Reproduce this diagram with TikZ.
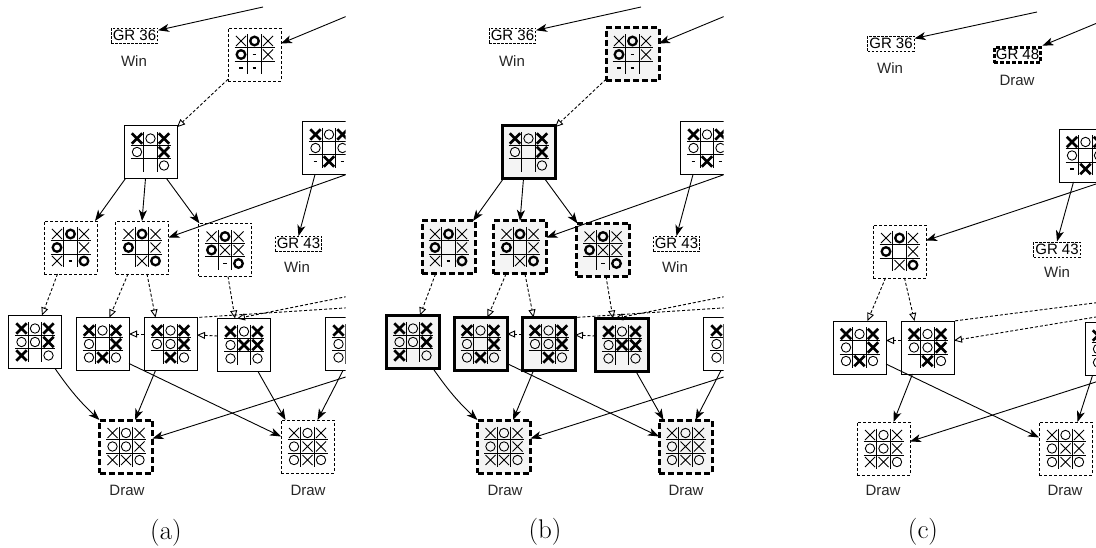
\documentclass[tikz,border=0pt]{standalone}
\usepackage{fontspec}
\newfontfamily\arialf{Liberation Sans}
\usetikzlibrary{arrows.meta}

\newcommand\mkn[2]{}
\newcommand\mkx[2]{\draw[line width=0.9pt] ({(#1-1)*13.5-5},{(#2-1)*13.5-5}) -- ++(10,10) ({(#1-1)*13.5-5},{(#2-1)*13.5+5}) -- ++(10,-10);}
\newcommand\mkX[2]{\draw[line width=2.6pt] ({(#1-1)*13.5-5.2},{(#2-1)*13.5-5.2}) -- ++(10.4,10.4) ({(#1-1)*13.5-5.2},{(#2-1)*13.5+5.2}) -- ++(10.4,-10.4);}
\newcommand\mko[2]{\draw[line width=0.9pt] ({(#1-1)*13.5},{(#2-1)*13.5}) circle[radius=4.7];}
\newcommand\mkO[2]{\draw[line width=2.3pt] ({(#1-1)*13.5},{(#2-1)*13.5}) circle[radius=4.3];}
\newcommand\mkd[2]{\draw[line width=1.1pt] ({(#1-1)*13.5-1.8},{(#2-1)*13.5}) -- ++(3.6,0);}

\newcommand\brd[4]{%
  \node[#3] (#1) at (#2) {};
  \begin{scope}[shift={(#2)}]
    \draw[line width=0.9pt] (-6.75,-20) -- (-6.75,20) (6.75,-20) -- (6.75,20) (-20,-6.75) -- (20,-6.75) (-20,6.75) -- (20,6.75);
    \foreach \m [count=\i from 0] in {#4} {%
      \pgfmathtruncatemacro\cc{mod(\i,3)}%
      \pgfmathtruncatemacro\rr{div(\i,3)}%
      \csname mk\m\endcsname{\cc}{\rr}}
  \end{scope}}

\newcommand\sz{\fontsize{15}{17}\selectfont}
\newcommand\capsz{\fontsize{27}{30}\selectfont}

\tikzset{
  bfr/.style={minimum size=53pt, inner sep=0pt, outer sep=0pt},
  fthin/.style={bfr, draw, line width=0.9pt},
  fdash/.style={bfr, draw, line width=0.9pt, dash pattern=on 3pt off 2pt},
  fbold/.style={bfr, draw, line width=3pt, fill=gray!9},
  fbdash/.style={bfr, draw, line width=3pt, dash pattern=on 6pt off 3pt, fill=gray!9},
  fbdashw/.style={bfr, draw, line width=3pt, dash pattern=on 6pt off 3pt},
  gr/.style={draw, line width=0.8pt, dash pattern=on 2.5pt off 1.5pt, inner xsep=1.5pt, inner ysep=2pt, text height=10.5pt, text depth=0.6pt},
  grb/.style={gr, line width=3.5pt, dash pattern=on 4pt off 2pt},
  lbl/.style={text=black!85},
  sarr/.style={line width=0.9pt, -{Stealth[length=11pt,width=8pt,inset=3pt]}},
  darr/.style={line width=0.9pt, dash pattern=on 3pt off 2pt, -{Triangle[open,length=8pt,width=7pt]}},
  dline/.style={line width=0.9pt, dash pattern=on 3pt off 2pt},
}

\newcommand\panelab[1]{%
\begin{scope}
\clip (0,0) rectangle (345.5,548);
\node[gr] (#1gr36) at (134.5,35.5) {\arialf\sz GR 36};
\node[lbl] (#1win1) at (134,61) {\arialf\sz Win};
\brd{#1top}{254.5,54.5}{sTop}{x,O,x,O,d,x,d,d,n}
\brd{#1b2}{150.5,152}{sB2}{X,o,X,o,n,X,n,n,o}
\brd{#1r1}{329,148}{fthin}{X,o,X,o,n,o,d,X,d}
\brd{#1b3a}{70.5,247.5}{sL3}{x,O,x,O,n,x,x,d,O}
\brd{#1b3b}{142,247.5}{sL3}{x,O,x,O,n,x,n,x,O}
\brd{#1b3c}{225,250}{sL3}{x,O,x,O,x,x,n,d,O}
\node[gr] (#1gr43) at (298.5,244) {\arialf\sz GR 43};
\node[lbl] (#1win2) at (297,267) {\arialf\sz Win};
\brd{#1b4a}{35,342}{sL4}{X,o,X,o,o,X,X,n,o}
\brd{#1b4b}{102.5,344}{sL4}{X,o,X,o,n,X,o,X,o}
\brd{#1b4c}{170.5,344}{sL4}{X,o,X,o,o,X,n,X,o}
\brd{#1b4d}{244,345}{sL4}{X,o,X,o,X,X,o,n,o}
\brd{#1b4e}{352,344}{fthin}{X,o,X,o,n,X,o,X,o}
\brd{#1d1}{126,446.5}{sD1}{x,o,x,o,o,x,x,x,o}
\brd{#1d2}{307.5,446.5}{sD2}{x,o,x,o,x,x,o,x,o}
\node[lbl] (#1dr1) at (127,490) {\arialf\sz Draw};
\node[lbl] (#1dr2) at (308,490) {\arialf\sz Draw};
\coordinate (#1c1) at (263,7);
\coordinate (#1c2) at (352,14);
\coordinate (#1c3) at (352,172.5);
\coordinate (#1c4) at (352,295.5);
\coordinate (#1c5) at (352,307.5);
\coordinate (#1c6) at (352,375);
\draw[sarr] (#1c1) -- (#1gr36);
\draw[sarr] (#1c2) -- (#1top);
\draw[darr] (#1top) -- (#1b2);
\draw[sarr] ([xshift=-25pt]#1b2.south) -- ([xshift=-2pt]#1b3a.north east);
\draw[sarr] ([xshift=-5pt]#1b2.south) -- (#1b3b.north);
\draw[sarr] ([xshift=16pt]#1b2.south) -- ([xshift=1pt]#1b3c.north west);
\draw[sarr] ([xshift=-14pt]#1r1.south) -- (#1gr43.north);
\draw[sarr] (#1c3) -- ([yshift=10pt]#1b3b.east);
\draw[darr] ([xshift=-13pt]#1b3a.south) -- ([xshift=7pt]#1b4a.north);
\draw[darr] ([xshift=-14pt]#1b3b.south) -- ([xshift=7pt]#1b4b.north);
\draw[darr] ([xshift=5pt]#1b3b.south) -- ([xshift=-15pt]#1b4c.north);
\draw[darr] ([xshift=3pt]#1b3c.south) -- ([xshift=-9pt]#1b4d.north);
\draw[darr] ([yshift=10pt]#1b4c.west) -- ([yshift=10pt]#1b4b.east);
\draw[darr] ([yshift=9pt]#1b4d.west) -- ([yshift=9pt]#1b4c.east);
\draw[darr] (#1c4) -- ([xshift=-7pt]#1b4d.north);
\draw[dline] (#1c5) -- (#1b4c.north east);
\draw[sarr] ([xshift=20pt]#1b4a.south) to[bend right=6] (#1d1.north west);
\draw[sarr] ([xshift=-15pt]#1b4c.south) -- ([xshift=9pt]#1d1.north);
\draw[sarr] ([yshift=7pt]#1b4b.south east) -- ([yshift=10pt]#1d2.west);
\draw[sarr] ([xshift=14pt]#1b4d.south) -- ([xshift=-22pt]#1d2.north);
\draw[sarr] ([xshift=-9pt]#1b4e.south) -- ([xshift=10pt]#1d2.north);
\draw[sarr] (#1c6) -- ([yshift=8pt]#1d1.east);
\end{scope}}

\begin{document}
\begin{tikzpicture}[x=1pt,y=-1pt]
\useasboundingbox (0,0) rectangle (1096,548);

% panel (a)
\begin{scope}[sTop/.style={fdash}, sB2/.style={fthin}, sL3/.style={fdash}, sL4/.style={fthin}, sD1/.style={fbdashw}, sD2/.style={fdash}]
\panelab{a}
\end{scope}
\node (capa) at (166,533) {\capsz (a)};

% panel (b)
\begin{scope}[xshift=378pt, sTop/.style={fbdash}, sB2/.style={fbold}, sL3/.style={fbdash}, sL4/.style={fbold}, sD1/.style={fbdash}, sD2/.style={fbdash}]
\panelab{b}
\end{scope}
\node (capb) at (545,532) {\capsz (b)};

% panel (c)
\begin{scope}
\clip (756,0) rectangle (1096,548);
\node[gr] (cgr36) at (891,43.5) {\arialf\sz GR 36};
\node[lbl] (cwin1) at (890,68) {\arialf\sz Win};
\node[grb] (cgr48) at (1017.5,55) {\arialf\sz GR 48};
\node[lbl] (cdr0) at (1017,80) {\arialf\sz Draw};
\brd{cr1}{1085.5,155.5}{fthin}{X,o,X,o,n,o,d,X,d}
\node[gr] (cgr43) at (1057,249.5) {\arialf\sz GR 43};
\node[lbl] (cwin2) at (1057,272) {\arialf\sz Win};
\brd{cb3}{899.5,251.5}{fdash}{x,O,x,O,n,x,n,x,O}
\brd{cb4l}{859.5,347.5}{fthin}{X,o,X,o,n,X,o,X,o}
\brd{cb4r}{927.5,347.5}{fthin}{X,o,X,o,o,X,n,X,o}
\brd{cr2}{1111.5,349}{fthin}{X,o,X,o,n,X,o,X,o}
\brd{cd1}{883.5,448.5}{fdash}{x,o,x,o,o,x,x,x,o}
\brd{cd2}{1065.5,448.5}{fdash}{x,o,x,o,x,x,o,x,o}
\node[lbl] (cdr1) at (883,490) {\arialf\sz Draw};
\node[lbl] (cdr2) at (1065,490) {\arialf\sz Draw};
\coordinate (cc1) at (1037,12);
\coordinate (cc2) at (1102,21);
\coordinate (cc3) at (1102,182);
\coordinate (cc4) at (1102,302);
\coordinate (cc5) at (1102,316);
\coordinate (cc6) at (1102,380);
\draw[sarr] (cc1) -- (cgr36);
\draw[sarr] (cc2) -- (cgr48.north east);
\draw[sarr] ([xshift=-12pt]cr1.south) -- (cgr43.north);
\draw[sarr] (cc3) -- ([yshift=11pt]cb3.east);
\draw[darr] ([xshift=-14pt]cb3.south) -- ([xshift=8pt]cb4l.north);
\draw[darr] ([xshift=5pt]cb3.south) -- ([xshift=-13pt]cb4r.north);
\draw[darr] ([yshift=7pt]cb4r.west) -- ([yshift=7pt]cb4l.east);
\draw[dline] (cc4) -- (cb4r.north east);
\draw[darr] (cc5) -- ([yshift=7pt]cb4r.east);
\draw[sarr] ([xshift=-15pt]cb4r.south) -- ([xshift=10pt]cd1.north);
\draw[sarr] ([yshift=10pt]cb4l.south east) -- ([yshift=11pt]cd2.west);
\draw[sarr] (cc6) -- ([yshift=7pt]cd1.east);
\draw[sarr] ([xshift=-19pt]cr2.south) -- ([xshift=12pt]cd2.north);
\end{scope}
\node (capc) at (923,532) {\capsz (c)};
\end{tikzpicture}
\end{document}
